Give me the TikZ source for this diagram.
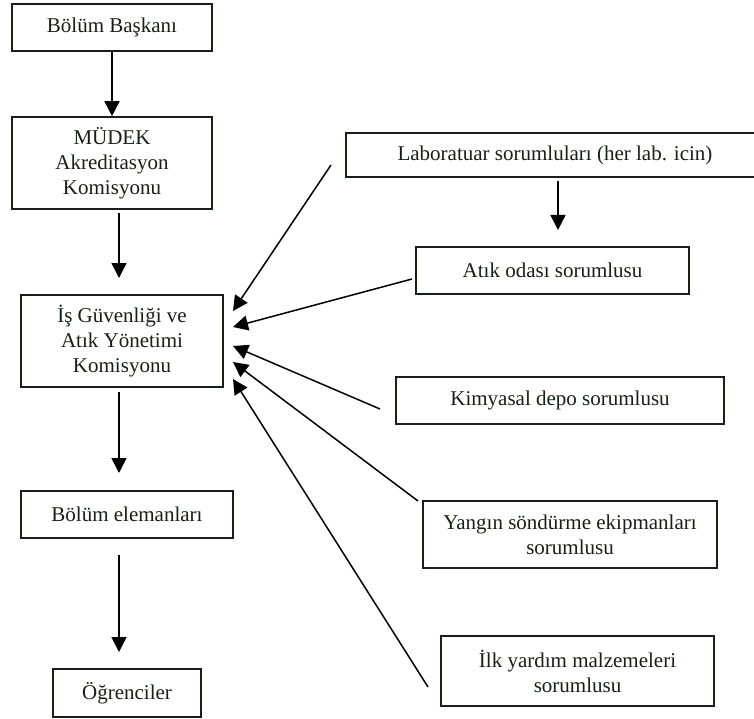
\documentclass[tikz,border=0pt]{standalone}
\usepackage{fontspec}
\setmainfont{Liberation Serif}
\usetikzlibrary{arrows.meta}
\definecolor{ink}{RGB}{22,32,22}
\begin{document}
\begin{tikzpicture}[x=1pt,y=-1pt,
  box/.style={draw=ink, line width=1.6pt, rectangle, inner sep=0pt, align=center,
    font=\fontsize{21}{25}\selectfont, text=ink},
  arr/.style={line width=1.5pt, -{Triangle[width=15pt,length=15pt]}}]
\useasboundingbox (0,0) rectangle (754,719);
% left column
\node[box, minimum width=200pt, minimum height=47pt] (baskan) at (112,27.5) {Bölüm Başkanı};
\node[box, minimum width=200pt, minimum height=92pt] (mudek) at (112,163) {MÜDEK\\Akreditasyon\\Komisyonu};
\node[box, minimum width=202pt, minimum height=92pt] (is) at (122,341) {İş Güvenliği ve\\Atık Yönetimi\\Komisyonu};
\node[box, minimum width=212pt, minimum height=47pt] (elem) at (127,514.5) {Bölüm elemanları};
\node[box, minimum width=148pt, minimum height=48pt] (ogr) at (127,693) {Öğrenciler};
% right column
\node[box, minimum width=418pt, minimum height=44pt] (lab) at (555,155) {Laboratuar sorumluları (her lab. icin)};
\node[box, minimum width=273pt, minimum height=47pt] (atik) at (552.5,270.5) {Atık odası sorumlusu};
\node[box, minimum width=328pt, minimum height=47pt] (kim) at (560,400.5) {Kimyasal depo sorumlusu};
\node[box, minimum width=294pt, minimum height=67pt] (yan) at (570,534.5) {Yangın söndürme ekipmanları\\sorumlusu};
\node[box, minimum width=273pt, minimum height=70pt] (ilk) at (577.5,671) {İlk yardım malzemeleri\\sorumlusu};
% free ends of connectors
\coordinate (m2s) at (119,213);
\coordinate (m2e) at (119,278);
\coordinate (i3s) at (119,392);
\coordinate (i3e) at (119,473);
\coordinate (e4s) at (119,555);
\coordinate (e4e) at (119,652);
\coordinate (l5s) at (558,181);
\coordinate (l5e) at (558,230);
\coordinate (d1s) at (331,165);
\coordinate (d1e) at (233,311);
\coordinate (d2s) at (412,279);
\coordinate (d2e) at (233,327);
\coordinate (d3s) at (380,409);
\coordinate (d3e) at (233,346);
\coordinate (d4s) at (418,501);
\coordinate (d4e) at (233,362);
\coordinate (d5s) at (428,687);
\coordinate (d5e) at (233,379);
% connectors
\draw[arr] (baskan.south) -- (mudek.north);
\draw[arr] (m2s) -- (m2e);
\draw[arr] (i3s) -- (i3e);
\draw[arr] (e4s) -- (e4e);
\draw[arr] (l5s) -- (l5e);
\draw[arr] (d1s) -- (d1e);
\draw[arr] (d2s) -- (d2e);
\draw[arr] (d3s) -- (d3e);
\draw[arr] (d4s) -- (d4e);
\draw[arr] (d5s) -- (d5e);
\end{tikzpicture}
\end{document}
